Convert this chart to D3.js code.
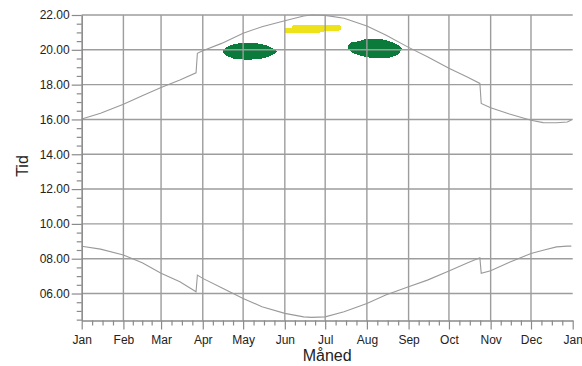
<!DOCTYPE html>
<html>
<head>
<meta charset="utf-8">
<script src="https://cdn.jsdelivr.net/npm/d3@7"></script>
<style>
  body { margin: 0; background: #fff; }
  svg { font-family: "Liberation Sans", Arial, sans-serif; }
  .grid line { stroke: #9d9d9d; stroke-width: 1.4; }
  .axis path, .axis line { stroke: #8a8a8a; stroke-width: 1.2; }
  .axis text { fill: #222; font-size: 12px; }
  .line { fill: none; stroke: #9a9a9a; stroke-width: 1.1; }
</style>
</head>
<body>
<script>
// month labels on the x axis (Jan .. Jan)
var months = ["Jan", "Feb", "Mar", "Apr", "May", "Jun", "Jul", "Aug", "Sep", "Oct", "Nov", "Dec", "Jan"];
var hourTicks = [6, 8, 10, 12, 14, 16, 18, 20, 22];

// sampling dates for the two time lines
var dayList = ["2023-01-01", "2023-01-15", "2023-02-01", "2023-02-15", "2023-03-01", "2023-03-15",
    "2023-03-27", "2023-03-28", "2023-04-01", "2023-04-15", "2023-05-01", "2023-05-15",
    "2023-06-01", "2023-06-15", "2023-06-21", "2023-07-01", "2023-07-15", "2023-08-01",
    "2023-08-15", "2023-09-01", "2023-09-15", "2023-10-01", "2023-10-15", "2023-10-24",
    "2023-10-25", "2023-11-01", "2023-11-15", "2023-12-01", "2023-12-10", "2023-12-20",
    "2023-12-28", "2023-12-31"];

// upper line (sunset) in hours
var sunset = [16.03, 16.36, 16.87, 17.36, 17.84, 18.26, 18.68, 19.80, 19.95, 20.37, 20.95, 21.33,
    21.67, 21.94, 22.00, 21.98, 21.81, 21.37, 20.85, 20.14, 19.60, 18.94, 18.42, 18.07,
    16.92, 16.67, 16.31, 15.95, 15.82, 15.81, 15.85, 15.97];

// lower line (sunrise) in hours
var sunrise = [8.72, 8.55, 8.21, 7.77, 7.16, 6.67, 6.10, 7.06, 6.87, 6.33, 5.72, 5.24,
    4.86, 4.66, 4.63, 4.66, 4.95, 5.43, 5.91, 6.39, 6.77, 7.30, 7.77, 8.05,
    7.16, 7.31, 7.79, 8.30, 8.49, 8.68, 8.72, 8.72];

// filled areas: date, low hour, high hour
var greenSpring = [
    ["2023-04-16", 19.84, 19.95], ["2023-04-19", 19.64, 20.16], ["2023-04-28", 19.45, 20.37],
    ["2023-05-06", 19.44, 20.39], ["2023-05-15", 19.50, 20.33], ["2023-05-21", 19.64, 20.16],
    ["2023-05-26", 19.86, 19.94]];
var greenSummer = [
    ["2023-07-18", 20.06, 20.25], ["2023-07-21", 19.83, 20.45], ["2023-07-26", 19.70, 20.49],
    ["2023-07-31", 19.59, 20.62], ["2023-08-08", 19.53, 20.64], ["2023-08-15", 19.53, 20.55],
    ["2023-08-23", 19.68, 20.33], ["2023-08-27", 20.00, 20.10]];
var yellowBand = [
    ["2023-06-01", 20.96, 21.24], ["2023-06-06", 20.95, 21.27], ["2023-06-07", 20.95, 21.43],
    ["2023-06-27", 20.96, 21.43], ["2023-06-28", 21.05, 21.43], ["2023-07-10", 21.06, 21.43],
    ["2023-07-13", 21.15, 21.38]];

var parse = d3.utcParse("%Y-%m-%d");

var W = 582, H = 366;
var plotLeft = 81.7, plotRight = 572.7, plotTop = 15, plotBottom = 320.5;

var x = d3.scaleUtc()
    .domain([parse("2023-01-01"), parse("2024-01-01")])
    .range([plotLeft, plotRight]);

var y = d3.scaleLinear()
    .domain([4.45, 22])
    .range([plotBottom, plotTop]);

var svg = d3.select("body").append("svg")
    .attr("width", W)
    .attr("height", H);

// filled areas first, grid is drawn on top of them
var area = d3.area()
    .x(function (d) { return x(parse(d[0])); })
    .y0(function (d) { return y(d[1]); })
    .y1(function (d) { return y(d[2]); });

[[greenSpring, "#0b7b3b", d3.curveMonotoneX],
 [greenSummer, "#0b7b3b", d3.curveMonotoneX],
 [yellowBand, "#eee31a", d3.curveLinear]].forEach(function (b) {
    svg.append("path")
        .datum(b[0])
        .attr("d", area.curve(b[2]))
        .attr("fill", b[1])
        .attr("shape-rendering", "crispEdges");
});

// month boundaries
var monthStarts = d3.utcMonths(parse("2023-01-01"), parse("2024-01-02"));

// vertical gridlines (no line at the closing Jan)
svg.append("g").attr("class", "grid")
    .selectAll("line")
    .data(monthStarts.slice(1, 12))
    .enter().append("line")
    .attr("x1", function (d) { return x(d); })
    .attr("x2", function (d) { return x(d); })
    .attr("y1", plotTop)
    .attr("y2", plotBottom);

// horizontal gridlines
svg.append("g").attr("class", "grid")
    .selectAll("line")
    .data(hourTicks)
    .enter().append("line")
    .attr("x1", plotLeft)
    .attr("x2", plotRight)
    .attr("y1", function (d) { return y(d); })
    .attr("y2", function (d) { return y(d); });

// the two time lines
var lineOf = function (vals) {
    return d3.line()
        .x(function (d, i) { return x(parse(dayList[i])); })
        .y(function (d) { return y(d); })(vals);
};

svg.append("path").attr("class", "line").attr("d", lineOf(sunset));
svg.append("path").attr("class", "line").attr("d", lineOf(sunrise));

// y axis, minor ticks every half hour
var minorHours = d3.range(4.5, 22.01, 0.5).filter(function (h) { return h % 2 !== 0; });
svg.append("g").attr("class", "axis")
    .attr("transform", "translate(" + plotLeft + ",0)")
    .call(d3.axisLeft(y).tickValues(minorHours).tickSize(5).tickSizeOuter(0).tickFormat(""));

svg.append("g").attr("class", "axis")
    .attr("transform", "translate(" + plotLeft + ",0)")
    .call(d3.axisLeft(y)
        .tickValues(hourTicks)
        .tickSize(10)
        .tickSizeOuter(0)
        .tickPadding(2)
        .tickFormat(d3.format("05.2f")));

// x axis, each month split in four
var minorDays = [];
for (var i = 0; i < 12; i++) {
    var a = monthStarts[i], b = monthStarts[i + 1];
    for (var k = 1; k < 4; k++) {
        minorDays.push(new Date(+a + (b - a) * k / 4));
    }
}

svg.append("g").attr("class", "axis")
    .attr("transform", "translate(0," + plotBottom + ")")
    .call(d3.axisBottom(x).tickValues(minorDays).tickSize(5).tickSizeOuter(0).tickFormat(""));

svg.append("g").attr("class", "axis")
    .attr("transform", "translate(0," + plotBottom + ")")
    .call(d3.axisBottom(x)
        .tickValues(monthStarts)
        .tickSize(9)
        .tickSizeOuter(0)
        .tickPadding(6)
        .tickFormat(function (d, i) { return months[i]; }));

// axis titles
svg.append("text")
    .attr("transform", "translate(28,166) rotate(-90)")
    .attr("text-anchor", "middle")
    .style("font-size", "16px")
    .style("fill", "#222")
    .text("Tid");

svg.append("text")
    .attr("x", (plotLeft + plotRight) / 2)
    .attr("y", 361)
    .attr("text-anchor", "middle")
    .style("font-size", "16px")
    .style("fill", "#222")
    .text("Måned");
</script>
</body>
</html>
